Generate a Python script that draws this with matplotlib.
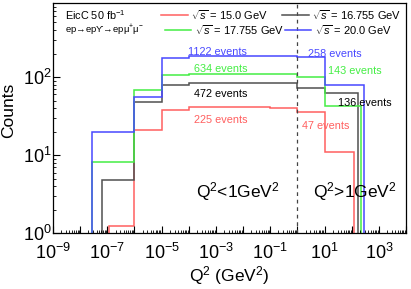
import numpy as np
import matplotlib
matplotlib.use('Agg')
import matplotlib.pyplot as plt
from matplotlib.ticker import LogLocator, FuncFormatter, NullFormatter

plt.rcParams['font.family'] = ['Liberation Sans', 'DejaVu Sans']
plt.rcParams['mathtext.fontset'] = 'custom'
plt.rcParams['mathtext.rm'] = 'Liberation Sans'
plt.rcParams['mathtext.it'] = 'Liberation Sans:italic'
plt.rcParams['mathtext.bf'] = 'Liberation Sans:bold'

# ================================
# Data
# ================================
mid_edges = [1e-6, 1e-5, 1e-4, 1e-3, 1e-2, 1e-1, 1, 10]

edges_15 = [1.16e-7] + mid_edges + [122]
counts_15 = [1.25, 21, 37.7, 41, 41, 41, 40.5, 36, 11]

edges_16755 = [6.2e-8] + mid_edges + [176]
counts_16755 = [4.8, 48, 80, 84, 84, 84, 84, 73, 62]

edges_17755 = [2.66e-8] + mid_edges + [221]
counts_17755 = [8.2, 68, 107, 111, 111, 111, 111, 99, 42.5]

edges_20 = [2.66e-8] + mid_edges + [292]
counts_20 = [20, 55, 173, 185, 186, 186, 187, 181, 79]

labels = [r'$\sqrt{s}$ = 15.0 GeV', r'$\sqrt{s}$ = 16.755 GeV',
          r'$\sqrt{s}$ = 17.755 GeV', r'$\sqrt{s}$ = 20.0 GeV']
colors = ['#ff5f5f', '#505050', '#44ee44', '#4848ff']

# event-count annotations: (text, x, y, color)
annotations = [
    ('1122 events', 10**-2.94, 210, colors[3]),
    ('634 events', 10**-2.81, 125, colors[2]),
    ('472 events', 10**-2.81, 60.5, 'black'),
    ('225 events', 10**-2.81, 28.1, colors[0]),
    ('258 events', 10**1.37, 200, colors[3]),
    ('143 events', 10**2.12, 119, colors[2]),
    ('136 events', 10**2.49, 46, 'black'),
    ('47 events', 10**1.04, 23.6, colors[0]),
]

fig = plt.figure(figsize=(4.11, 2.89), dpi=100)
ax = fig.add_axes([0.129, 0.1927, 0.859, 0.7986])

series = [(edges_15, counts_15), (edges_16755, counts_16755),
          (edges_17755, counts_17755), (edges_20, counts_20)]
for (edges, counts), col in zip(series, colors):
    ax.stairs(counts, edges, baseline=1e-3, color=col, linewidth=1.1)

ax.set_xscale('log')
ax.set_yscale('log')
ax.set_xlim(1e-9, 1e4)
ax.set_ylim(1, 900)

# Q2 = 1 GeV2 divider
ax.axvline(1, color='#444444', linewidth=0.9, linestyle=(0, (3, 3)))

for txt, x, y, col in annotations:
    ax.text(x, y, txt, color=col, fontsize=7.8, ha='center', va='center')

ax.text(10**-2.19, 3.4, r'Q$^2$<1GeV$^2$', fontsize=12.5, ha='center', va='center')
ax.text(10**2.12, 3.4, r'Q$^2$>1GeV$^2$', fontsize=12.5, ha='center', va='center')

# header and legend (placed like the ROOT TLegend)
ax.text(0.034, 0.946, r'EicC 50 fb$^{-1}$', transform=ax.transAxes,
        fontsize=7.8, va='center')
ax.text(0.034, 0.881, r'ep→epϒ→epμ$^{+}$μ$^{-}$', transform=ax.transAxes,
        fontsize=6.8, va='center')
leg_pos = [(0.306, 0.946), (0.649, 0.946), (0.317, 0.881), (0.657, 0.881)]
for (lx, ly), lab, col in zip(leg_pos, labels, colors):
    ax.plot([lx, lx + 0.075], [ly, ly], color=col, linewidth=1.1,
            transform=ax.transAxes)
    ax.text(lx + 0.085, ly, lab, transform=ax.transAxes, fontsize=8,
            va='center')

# axes styling
ax.xaxis.set_major_locator(LogLocator(base=10, numticks=30))
ax.xaxis.set_minor_locator(LogLocator(base=10, subs=np.arange(2, 10), numticks=30))
ax.xaxis.set_major_formatter(FuncFormatter(
    lambda v, p: r'$\mathregular{10^{%d}}$' % round(np.log10(v)) if round(np.log10(v)) % 2 else ''))
ax.xaxis.set_minor_formatter(NullFormatter())
ax.tick_params(which='major', direction='in', length=5, width=0.8, labelsize=13)
ax.tick_params(which='minor', direction='in', length=2.5, width=0.6)
ax.tick_params(axis='x', pad=7)
ax.tick_params(axis='y', pad=1)

ax.set_xlabel(r'Q$^2$ (GeV$^2$)', fontsize=12.5)
ax.xaxis.set_label_coords(0.498, -0.135)
ax.set_ylabel('Counts', fontsize=12.5)
ax.yaxis.set_label_coords(-0.105, 0.534)
for sp in ax.spines.values():
    sp.set_linewidth(0.9)

fig.savefig('out.png', dpi=100)
